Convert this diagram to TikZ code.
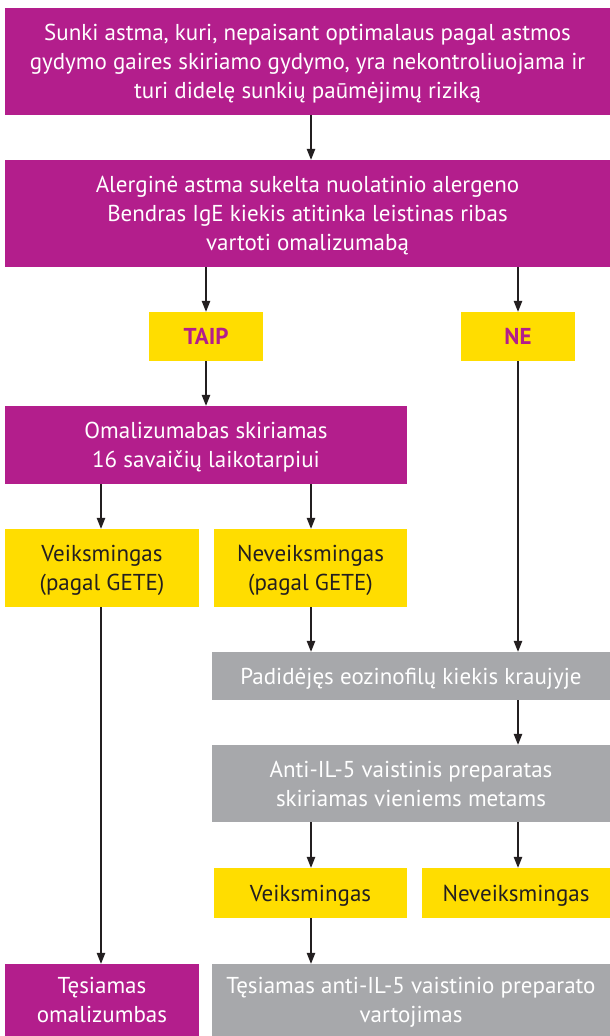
\documentclass[tikz,border=0pt]{standalone}
\usepackage{fontspec}
\setmainfont{PT Sans}
\usetikzlibrary{arrows.meta}
\definecolor{mag}{HTML}{B31E8C}
\definecolor{yel}{HTML}{FFDD00}
\definecolor{gry}{HTML}{A7A8AB}
\definecolor{ink}{HTML}{231F20}
\begin{document}
\begin{tikzpicture}[x=1pt,y=-1pt,
  box/.style={rectangle,inner sep=0pt,align=center,text depth=0pt,font=\fontsize{23}{29}\selectfont},
  magbox/.style={box,fill=mag,text=white},
  yelbox/.style={box,fill=yel,text=ink},
  grybox/.style={box,fill=gry,text=white},
  ans/.style={box,fill=yel,text=mag,font=\fontsize{23}{29}\selectfont\bfseries},
  arr/.style={draw=ink,line width=1.2pt,-{Triangle[length=11pt,width=8.5pt]}},
  ln/.style={draw=ink,line width=1.2pt}]
\fill[white] (0,0) rectangle (610,1036);
\useasboundingbox (0,0) rectangle (610,1036);
\node[magbox,minimum width=605pt,minimum height=107pt] (b1) at (307.5,61.5)
  {Sunki astma, kuri, nepaisant optimalaus pagal astmos\\gydymo gaires skiriamo gydymo, yra nekontroliuojama ir\\turi didelę sunkių paūmėjimų riziką};
\node[magbox,minimum width=605pt,minimum height=107pt] (b2) at (307.5,213.5)
  {Alerginė astma sukelta nuolatinio alergeno\\Bendras IgE kiekis atitinka leistinas ribas\\vartoti omalizumabą};
\node[ans,minimum width=114pt,minimum height=49pt] (taip) at (206,336.5) {TAIP};
\node[ans,minimum width=114pt,minimum height=49pt] (ne) at (518,336.5) {NE};
\node[magbox,minimum width=402pt,minimum height=78pt] (oma) at (206,445) {Omalizumabas skiriamas\\16 savaičių laikotarpiui};
\node[yelbox,minimum width=194pt,minimum height=78pt] (vg) at (102,568) {Veiksmingas\\(pagal GETE)};
\node[yelbox,minimum width=193pt,minimum height=78pt] (nvg) at (310.5,568) {Neveiksmingas\\(pagal GETE)};
\node[grybox,minimum width=398pt,minimum height=48pt] (pad) at (411,676) {Padidėjęs eozinofilų kiekis kraujyje};
\node[grybox,minimum width=398pt,minimum height=77pt] (anti) at (411,783.5) {Anti-IL-5 vaistinis preparatas\\skiriamas vieniems metams};
\node[yelbox,minimum width=193pt,minimum height=50pt] (v) at (310.5,893) {Veiksmingas};
\node[yelbox,minimum width=188pt,minimum height=50pt] (nv) at (516,893) {Neveiksmingas};
\node[magbox,minimum width=194pt,minimum height=72pt] (to) at (102,1000) {Tęsiamas\\omalizumbas};
\node[grybox,minimum width=398pt,minimum height=72pt] (ta) at (411,1000) {Tęsiamas anti-IL-5 vaistinio preparato\\vartojimas};
\coordinate (xa) at (101,0);
\coordinate (xb) at (206,0);
\coordinate (xc) at (311,0);
\coordinate (xd) at (518,0);
\draw[arr] (xc |- b1.south) -- (xc |- b2.north);
\draw[arr] (xb |- b2.south) -- (xb |- taip.north);
\draw[arr] (xd |- b2.south) -- (xd |- ne.north);
\draw[arr] (xb |- taip.south) -- (xb |- oma.north);
\draw[arr] (xa |- oma.south) -- (xa |- vg.north);
\draw[arr] (xc |- oma.south) -- (xc |- nvg.north);
\draw[arr] (xd |- ne.south) -- (xd |- pad.north);
\draw[arr] (xc |- nvg.south) -- (xc |- pad.north);
\draw[arr] (xd |- pad.south) -- (xd |- anti.north);
\draw[arr] (xc |- anti.south) -- (xc |- v.north);
\draw[arr] (xd |- anti.south) -- (xd |- nv.north);
\draw[arr] (xc |- v.south) -- (xc |- ta.north);
\draw[arr] (xa |- vg.south) -- (xa |- to.north);
\end{tikzpicture}
\end{document}
